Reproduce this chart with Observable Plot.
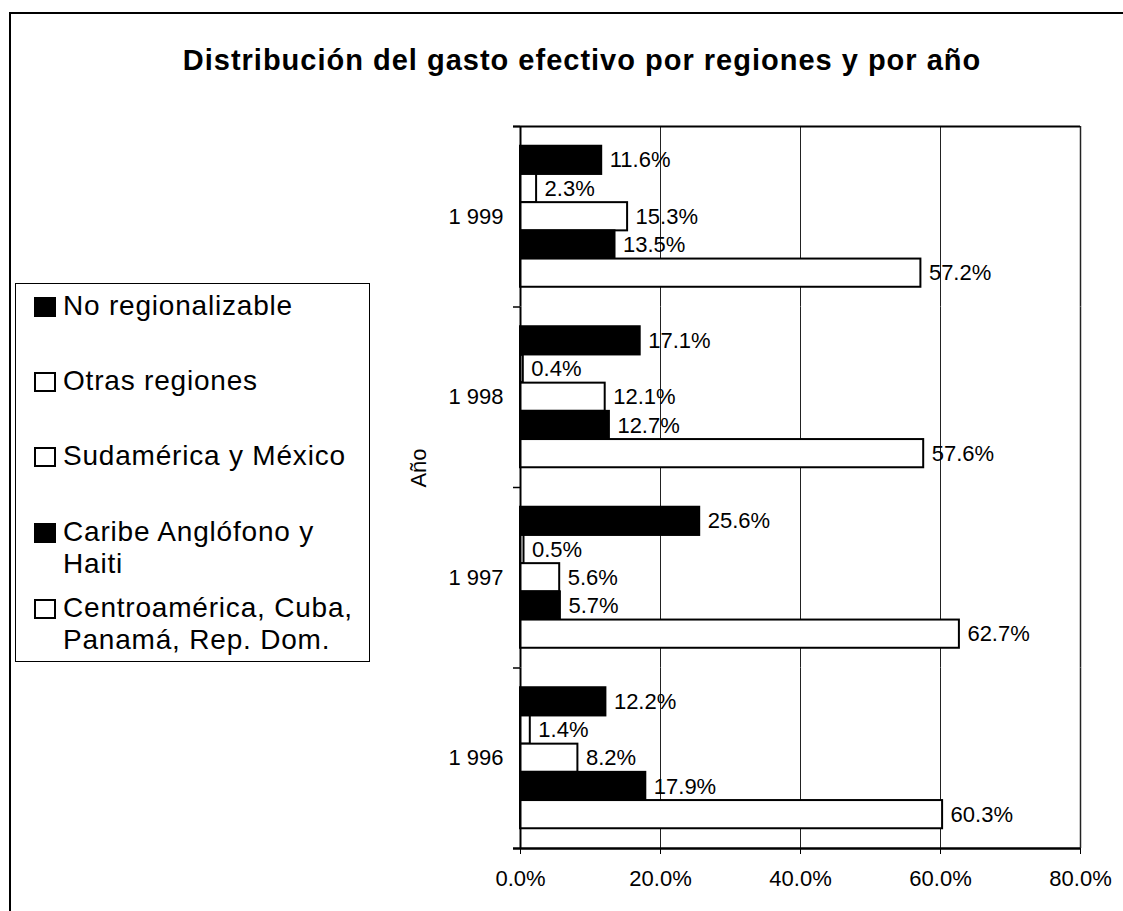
<!DOCTYPE html>
<html>
<head>
<meta charset="utf-8">
<script src="https://cdn.jsdelivr.net/npm/d3@7"></script>
<script src="https://cdn.jsdelivr.net/npm/@observablehq/plot@0.6"></script>
<style>
  html, body { margin: 0; padding: 0; background: white; }
  #wrap { position: relative; width: 1123px; height: 911px; overflow: hidden; font-family: "Liberation Sans", Arial, sans-serif; color: black; }
  #wrap svg { position: absolute; left: 0; top: 0; }
  .frameL { position: absolute; left: 9px; top: 12px; width: 2px; height: 899px; background: black; }
  .frameT { position: absolute; left: 9px; top: 12px; width: 1114px; height: 2px; background: black; }
  #title { position: absolute; left: 0; width: 1164px; top: 46px; text-align: center; font-weight: bold; font-size: 29px; line-height: 29px; letter-spacing: 1px; white-space: nowrap; }
  #ytitle { position: absolute; left: 419px; top: 468px; transform: translate(-50%, -50%) rotate(-90deg); font-size: 22px; white-space: nowrap; }
  #legend { position: absolute; left: 15px; top: 283px; width: 355px; height: 379px; border: 1.5px solid black; box-sizing: border-box; }
  .item { position: absolute; left: 47px; font-size: 28px; line-height: 32px; letter-spacing: 0.8px; white-space: nowrap; }
  .sw { position: absolute; left: 18px; width: 22px; height: 20px; border: 2px solid black; box-sizing: border-box; }
</style>
</head>
<body>
<div id="wrap"></div>
<script>
// ---- data ----
const years = ["1999", "1998", "1997", "1996"];
const yearLabels = ["1 999", "1 998", "1 997", "1 996"];
const series = ["No regionalizable", "Otras regiones", "Sudamérica y México", "Caribe Anglófono y Haiti", "Centroamérica, Cuba, Panamá, Rep. Dom."];
const legendLines = [["No regionalizable"], ["Otras regiones"], ["Sudamérica y México"], ["Caribe Anglófono y", "Haiti"], ["Centroamérica, Cuba,", "Panamá, Rep. Dom."]];
const seriesFills = ["black", "white", "white", "black", "white"];
// values per series, in the order of `years`
const noRegionalizable = [11.6, 17.1, 25.6, 12.2];
const otrasRegiones = [2.3, 0.4, 0.5, 1.4];
const sudamericaMexico = [15.3, 12.1, 5.6, 8.2];
const caribeAnglofono = [13.5, 12.7, 5.7, 17.9];
const centroamerica = [57.2, 57.6, 62.7, 60.3];
const xTicks = [0, 20, 40, 60, 80];
const titleText = "Distribución del gasto efectivo por regiones y por año";
const yTitle = "Año";

const seriesValues = [noRegionalizable, otrasRegiones, sudamericaMexico, caribeAnglofono, centroamerica];
const rows = years.flatMap((year, i) => series.map((s, j) => ({year, series: s, value: seriesValues[j][i]})));

// ---- layout ----
const W = 1123, H = 911, mT = 126, mB = 63, mL = 520, mR = 43;
const padOuter = 0.7;
const facetH = (H - mT - mB) / years.length;
const step = facetH / (series.length + 2 * padOuter);
const edge = padOuter * step + step / 2;

const fmt = d => d.toFixed(1) + "%";

const chart = Plot.plot({
  width: W, height: H,
  marginTop: mT, marginBottom: mB, marginLeft: mL, marginRight: mR,
  style: {fontFamily: "'Liberation Sans', Arial, sans-serif", fontSize: "22px", background: "transparent", color: "black"},
  x: {domain: [0, 80], ticks: xTicks, tickFormat: fmt, tickSize: 6, tickPadding: 16, label: null},
  y: {domain: series, paddingInner: 0, paddingOuter: padOuter, round: false, axis: null},
  fy: {domain: years, padding: 0, round: false, axis: "left", tickSize: 0, tickPadding: 17,
       tickFormat: d => yearLabels[years.indexOf(d)], label: null},
  color: {domain: series, range: seriesFills},
  marks: [
    Plot.ruleX(xTicks.slice(1, -1), {stroke: "#222", strokeWidth: 1}),
    Plot.ruleX([xTicks[xTicks.length - 1]], {stroke: "#222", strokeWidth: 1.5}),
    Plot.barX(rows, {x: "value", y: "series", fy: "year", fill: "series", stroke: "black", strokeWidth: 2}),
    Plot.text(rows, {x: "value", y: "series", fy: "year", text: d => fmt(d.value), dx: 8, textAnchor: "start", fill: "black"}),
    Plot.ruleX([0], {stroke: "black", strokeWidth: 2}),
    Plot.ruleY(years, {fy: d => d, y: () => series[0], dy: -edge, x1: -1, x2: 0, stroke: "black", strokeWidth: 1.5}),
    Plot.ruleY([years[0]], {fy: d => d, y: () => series[0], dy: -edge, x1: -1, x2: 80, stroke: "black", strokeWidth: 2}),
    Plot.ruleY([years[years.length - 1]], {fy: d => d, y: () => series[series.length - 1], dy: edge, x1: -1, x2: 80, stroke: "black", strokeWidth: 2.5})
  ]
});

const wrap = document.getElementById("wrap");
wrap.appendChild(chart);

function add(cls, text, id) {
  const el = document.createElement("div");
  if (cls) el.className = cls;
  if (id) el.id = id;
  if (text != null) el.textContent = text;
  return el;
}
wrap.appendChild(add("frameL"));
wrap.appendChild(add("frameT"));
wrap.appendChild(add(null, titleText, "title"));
wrap.appendChild(add(null, yTitle, "ytitle"));

// legend
const legend = add(null, null, "legend");
const itemTops = [6, 81, 156, 232, 308]; // relative to legend box
legendLines.forEach((lines, k) => {
  const sw = add("sw");
  sw.style.top = (itemTops[k] + 7) + "px";
  sw.style.background = seriesFills[k];
  legend.appendChild(sw);
  const it = add("item");
  it.style.top = itemTops[k] + "px";
  it.innerHTML = lines.map(l => l.replace(/&/g, "&amp;")).join("<br>");
  legend.appendChild(it);
});
wrap.appendChild(legend);
</script>
</body>
</html>
